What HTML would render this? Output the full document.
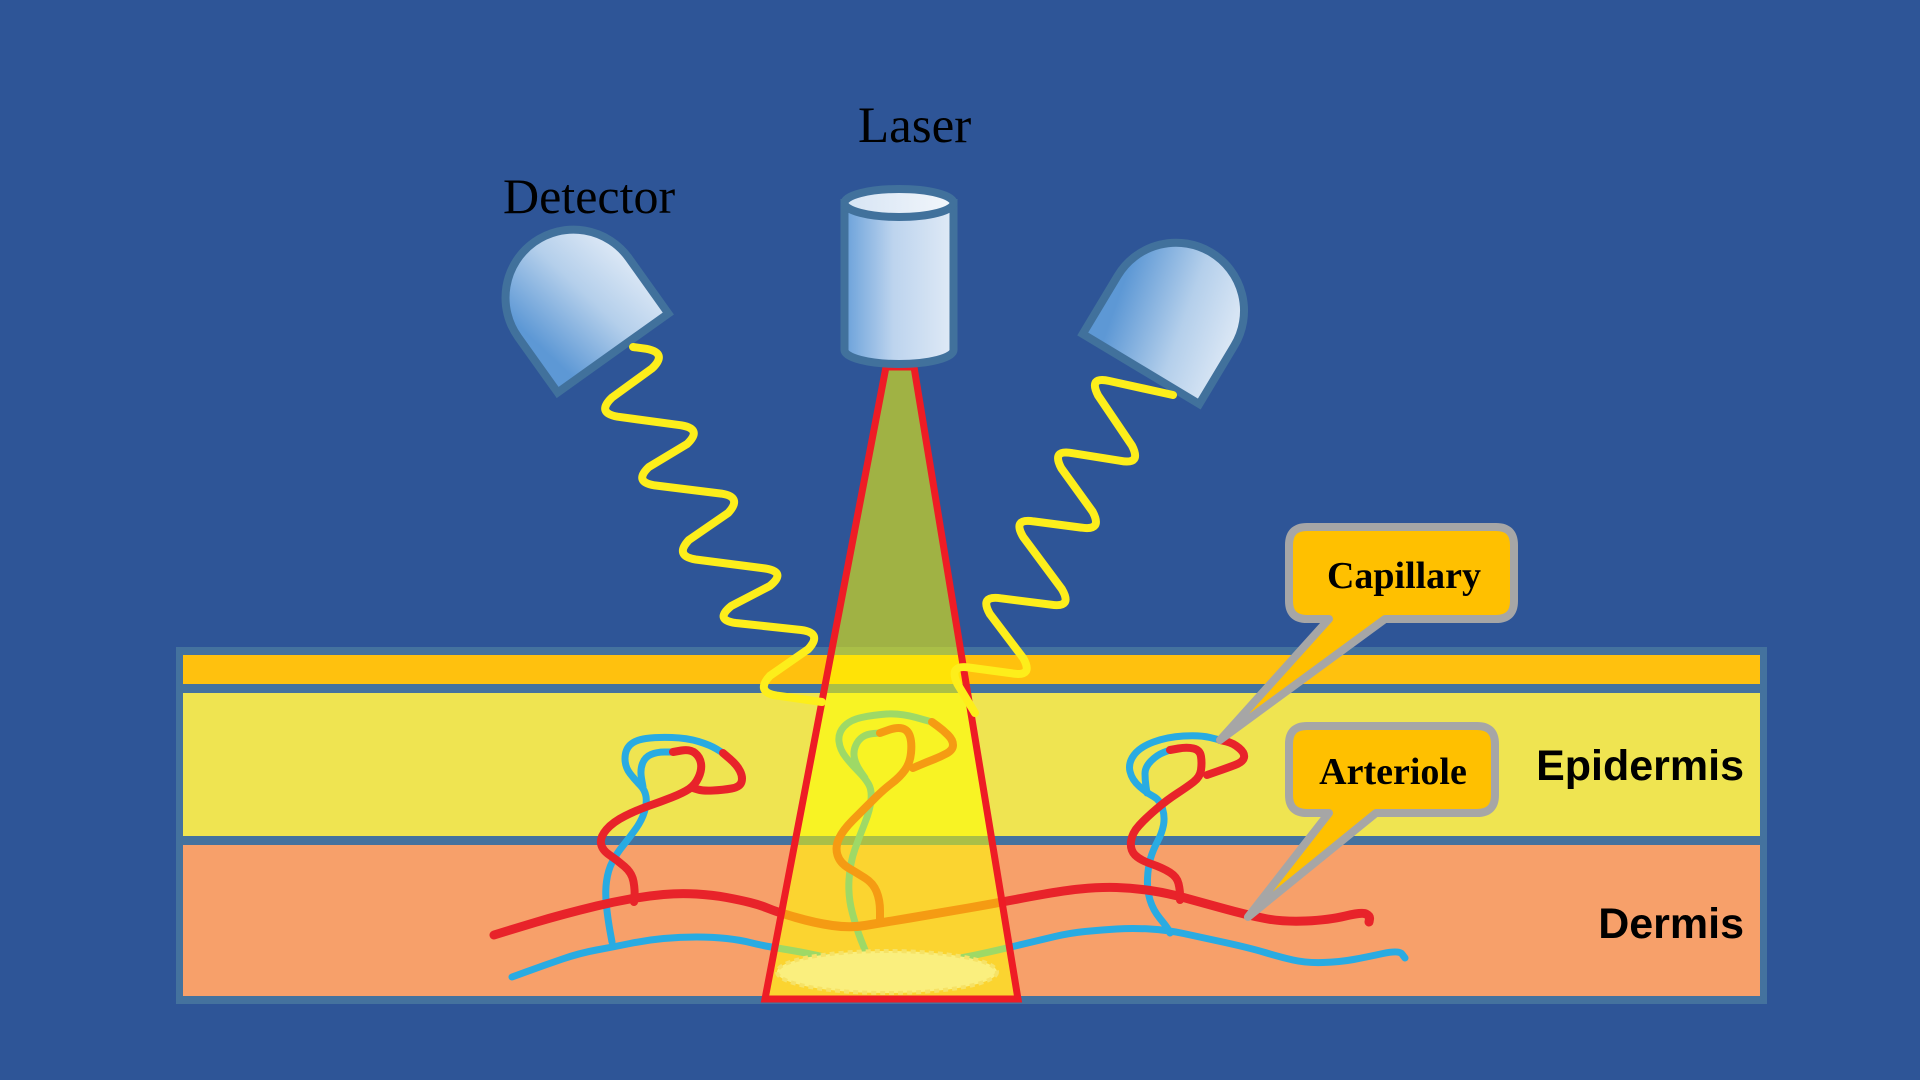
<!DOCTYPE html>
<html>
<head>
<meta charset="utf-8">
<style>
  html,body{margin:0;padding:0;background:#2e5597;}
  svg{display:block;}
</style>
</head>
<body>
<svg width="1920" height="1080" viewBox="0 0 1920 1080" xmlns="http://www.w3.org/2000/svg">
  <defs>
    <linearGradient id="cyl" x1="0" y1="0" x2="1" y2="0">
      <stop offset="0" stop-color="#6aa1da"/>
      <stop offset="0.45" stop-color="#bdd4ee"/>
      <stop offset="1" stop-color="#e0eaf6"/>
    </linearGradient>
    <linearGradient id="cyltop" x1="0" y1="0" x2="1" y2="0">
      <stop offset="0" stop-color="#d6e4f4"/>
      <stop offset="1" stop-color="#f2f6fb"/>
    </linearGradient>
    <linearGradient id="det" x1="0" y1="0.2" x2="1" y2="0">
      <stop offset="0" stop-color="#5d98d5"/>
      <stop offset="0.5" stop-color="#b4cfeb"/>
      <stop offset="1" stop-color="#e6eef8"/>
    </linearGradient>
  </defs>

  <!-- background -->
  <rect x="0" y="0" width="1920" height="1080" fill="#2e5597"/>

  <!-- skin block -->
  <rect x="176" y="647" width="1591" height="357" fill="#44729e"/>
  <rect x="183" y="655" width="1577" height="29" fill="#ffc10e"/>
  <rect x="183" y="693" width="1577" height="143" fill="#efe451"/>
  <rect x="183" y="845" width="1577" height="151" fill="#f7a06a"/>

  <!-- vessels: blue -->
  <g fill="none" stroke="#29abe2" stroke-linecap="round" stroke-linejoin="round">
    <path stroke-width="7" d="M512,977 L528.5,971 Q545,965 562.5,959 Q580,953 596.5,950 Q613,947 630,943.5 Q647,940 663.5,938.5 Q680,937 696.5,937 Q713,937 726.5,938.5 Q740,940 750,942.5 Q760,945 768.5,946.5 Q777,948 792,950.5 Q807,953 828.5,958 Q850,963 868.5,965.5 Q887,968 908.5,965.5 Q930,963 948.5,960 Q967,957 987,952.5 Q1007,948 1023.5,944 Q1040,940 1055,936.5 Q1070,933 1085,931.5 Q1100,930 1116.5,929 Q1133,928 1150,929 Q1167,930 1183.5,933.5 Q1200,937 1225,942.5 Q1250,948 1265,952.5 Q1280,957 1293,960 Q1306,963 1323,962.5 Q1340,962 1353.5,959.5 Q1367,957 1383,953.5 Q1399,950 1402,954 L1405,958"/>
    <!-- left loop -->
    <path stroke-width="7" d="M612,942 L610,931 Q608,920 606.5,906.5 Q605,893 606.5,881.5 Q608,870 612.5,861.5 Q617,853 623.5,845 Q630,837 636,828.5 Q642,820 644.5,811.5 Q647,803 646,796.5 Q645,790 640,785 Q635,780 630,773.5 Q625,767 625,758.5 Q625,750 630,745 Q635,740 646,738.5 Q657,737 672,737.5 Q687,738 698.5,741.5 Q710,745 716.5,749 L723,753"/>
    <path stroke-width="7" d="M643,787 L641.5,778.5 Q640,770 642.5,763.5 Q645,757 651,754.5 Q657,752 664.5,752 L672,752"/>
    <!-- center loop -->
    <path stroke-width="7" d="M865,950 L861,940 Q857,930 852.5,913.5 Q848,897 849,880 Q850,863 855,849 Q860,835 865,822.5 Q870,810 871,800 Q872,790 868.5,784 Q865,778 858.5,771.5 Q852,765 846,757.5 Q840,750 839,741.5 Q838,733 844,726.5 Q850,720 861.5,717.5 Q873,715 886.5,714 Q900,713 916,717.5 L932,722"/>
    <path stroke-width="7" d="M865,778 L860.5,771.5 Q856,765 854.5,758.5 Q853,752 855.5,746 Q858,740 862.5,737 Q867,734 873.5,733.5 L880,733"/>
    <!-- right loop -->
    <path stroke-width="7" d="M1170,933 L1168.5,930 Q1167,927 1160,918.5 Q1153,910 1150,900 Q1147,890 1147.5,878.5 Q1148,867 1150.5,858.5 Q1153,850 1157.5,841.5 Q1162,833 1163.5,825 Q1165,817 1162.5,808.5 Q1160,800 1153.5,796.5 Q1147,793 1139.5,786.5 Q1132,780 1130,771.5 Q1128,763 1134,755 Q1140,747 1153.5,742 Q1167,737 1183.5,736 Q1200,735 1210,737.5 L1220,740"/>
    <path stroke-width="7" d="M1147,793 L1146,786.5 Q1145,780 1145,773.5 Q1145,767 1151,761 Q1157,755 1163.5,752.5 L1170,750"/>
  </g>

  <!-- vessels: red -->
  <g fill="none" stroke="#e8232a" stroke-linecap="round" stroke-linejoin="round">
    <path stroke-width="9" d="M494,935 L507,931 Q520,927 535,922.5 Q550,918 565,914 Q580,910 596.5,906 Q613,902 630,899 Q647,896 663.5,894.5 Q680,893 696.5,894 Q713,895 726.5,897.5 Q740,900 750,902.5 Q760,905 768.5,908.5 Q777,912 796,917.5 Q815,923 832.5,925.5 Q850,928 865,925.5 Q880,923 910,918 Q940,913 968.5,908 Q997,903 1028.5,897 Q1060,891 1080,889 Q1100,887 1116.5,887.5 Q1133,888 1150,890.5 Q1167,893 1183.5,897.5 Q1200,902 1223.5,908.5 Q1247,915 1265,918.5 Q1283,922 1306,921 Q1329,920 1345.5,916 Q1362,912 1366,914 Q1370,916 1369.5,919 L1369,922"/>
    <!-- left loop -->
    <path stroke-width="8" d="M723,753 L730,759 Q737,765 740,771 Q743,777 741.5,782 Q740,787 731.5,788.5 Q723,790 713,790.5 Q703,791 698,789.5 L693,788"/>
    <path stroke-width="8" d="M673,752 L681.5,750.5 Q690,749 695,753 Q700,757 701,763.5 Q702,770 698.5,777.5 Q695,785 689,789 Q683,793 671.5,797.5 Q660,802 648.5,806 Q637,810 625,816 Q613,822 606.5,829.5 Q600,837 601,843.5 Q602,850 609.5,855 Q617,860 624.5,866.5 Q632,873 633.5,881.5 Q635,890 634.5,896 L634,902"/>
    <!-- center loop -->
    <path stroke-width="8" d="M880,733 L888.5,730 Q897,727 902.5,728.5 Q908,730 910,736.5 Q912,743 911,753 Q910,763 905,770 Q900,777 891.5,783.5 Q883,790 873,800 Q863,810 853,820 Q843,830 839,838.5 Q835,847 837.5,855 Q840,863 848.5,868 Q857,873 865,878 Q873,883 876.5,891.5 Q880,900 880,911 L880,922"/>
    <path stroke-width="8" d="M932,722 L937.5,726 Q943,730 948,735 Q953,740 953,745 Q953,750 946.5,753.5 Q940,757 933.5,759.5 Q927,762 920,765 L913,768"/>
    <!-- right loop -->
    <path stroke-width="8" d="M1220,740 L1226.5,741.5 Q1233,743 1239,748 Q1245,753 1244,757.5 Q1243,762 1235,765 Q1227,768 1217,771.5 L1207,775"/>
    <path stroke-width="8" d="M1170,750 L1178.5,748.5 Q1187,747 1193.5,748.5 Q1200,750 1201,756.5 Q1202,763 1201,770 Q1200,777 1193.5,782 Q1187,787 1177,793.5 Q1167,800 1157,808.5 Q1147,817 1139.5,825 Q1132,833 1131,841.5 Q1130,850 1135,855 Q1140,860 1151.5,864 Q1163,868 1170,872.5 Q1177,877 1178.5,883.5 Q1180,890 1180,895 L1180,900"/>
  </g>

  <!-- laser beam -->
  <polygon points="886,367 914,367 1018,999 765,999" fill="#ffff00" fill-opacity="0.55"/>
  <ellipse cx="887" cy="972" rx="110" ry="21" fill="#faef7e" stroke="#f6e266" stroke-width="4" stroke-dasharray="5 4"/>
  <polygon points="886,367 914,367 1018,999 765,999" fill="none" stroke="#ee1c25" stroke-width="7" stroke-linejoin="miter"/>

  <!-- laser cylinder -->
  <g stroke="#41719c" stroke-width="8">
    <path d="M844.5,203 L844.5,350 A54.5,14 0 0 0 953.5,350 L953.5,203 Z" fill="url(#cyl)"/>
    <ellipse cx="899" cy="203" rx="54.5" ry="14" fill="url(#cyltop)"/>
  </g>

  <!-- detectors -->
  <g stroke="#41719c" stroke-width="8" stroke-linejoin="miter">
    <path transform="translate(613,353) rotate(-35.5) translate(-68,-136)" d="M0,136 L0,68 A68,68 0 0 1 136,68 L136,136 Z" fill="url(#det)"/>
    <path transform="translate(1141,369) rotate(31) translate(-68,-136)" d="M0,136 L0,68 A68,68 0 0 1 136,68 L136,136 Z" fill="url(#det)"/>
  </g>

  <!-- yellow waves -->
  <g fill="none" stroke="#fdee1b" stroke-width="8" stroke-linecap="round" stroke-linejoin="round">
    <path d="M633,347 L646.4,348.8 Q668,353 652.2,368.3 L611.8,397.7 Q596,413 617.7,416.7 L681.3,425.3 Q703,429 687,444.1 L649,466.9 Q633,482 654.7,485.4 L721.3,493.6 Q743,497 728,513.1 L689,539.9 Q674,556 695.7,559.5 L765.3,568.5 Q787,572 769.9,585.9 L731.1,606.1 Q714,620 735.8,623 L801.2,630 Q823,633 808.2,649.2 L769.9,675.8 Q755,692 776.7,695.6 L822,702"/>
    <path d="M1173,395 L1109.4,381 Q1088,376 1098.1,395.5 L1131.9,445.5 Q1142,465 1120.4,460.8 L1072.6,453.2 Q1051,449 1061.4,468.4 L1092.6,511.6 Q1103,531 1081.3,527.6 L1033.7,521.4 Q1012,518 1023.2,537 L1061.8,589 Q1073,608 1051.2,604.7 L1000.8,598.3 Q979,595 989.9,614.1 L1023.1,657.9 Q1034,677 1012.3,673.4 L969.7,667.6 Q948,664 957.4,683.9 L975,713"/>
  </g>

  <!-- callouts -->
  <g stroke="#a6a6a6" stroke-width="8" stroke-linejoin="round" fill="#ffc000">
    <path d="M1307,527 H1496 Q1514,527 1514,545 V601 Q1514,619 1496,619 H1385 L1220,740 L1329,619 H1307 Q1289,619 1289,601 V545 Q1289,527 1307,527 Z"/>
    <path d="M1307,726 H1477 Q1495,726 1495,744 V795 Q1495,813 1477,813 H1376 L1248,917 L1329,813 H1307 Q1289,813 1289,795 V744 Q1289,726 1307,726 Z"/>
  </g>

  <!-- text -->
  <g font-family="'Liberation Serif', 'Times New Roman', serif" fill="#000">
    <text x="858" y="142" font-size="51">Laser</text>
    <text x="503" y="213" font-size="50">Detector</text>
    <text x="1404" y="588" font-size="38" font-weight="bold" text-anchor="middle">Capillary</text>
    <text x="1393" y="784" font-size="38" font-weight="bold" text-anchor="middle">Arteriole</text>
  </g>
  <g font-family="'Liberation Sans', Arial, sans-serif" font-weight="bold" fill="#000" font-size="43" text-anchor="end">
    <text x="1744" y="780">Epidermis</text>
    <text x="1744" y="938">Dermis</text>
  </g>
</svg>
</body>
</html>
